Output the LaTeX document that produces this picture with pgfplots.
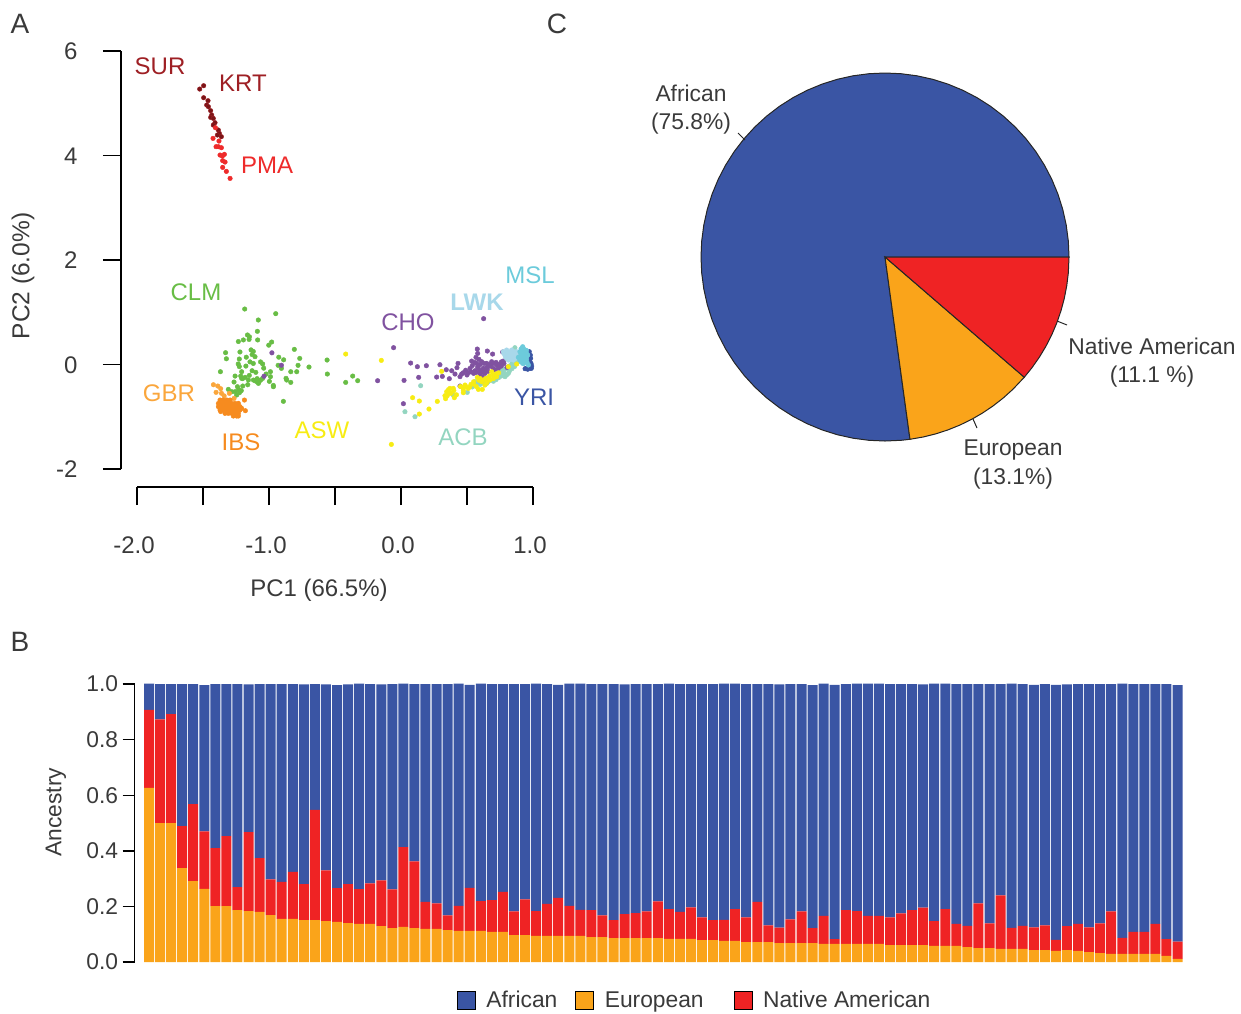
\documentclass[border=0pt]{standalone}
\usepackage{pgfplots}
\pgfplotsset{compat=1.18}
\usepackage{pgfplotstable}
\usepackage{fontspec}
\setmainfont{Liberation Sans}
\definecolor{afr}{HTML}{3A55A4}
\definecolor{eur}{HTML}{FAA41A}
\definecolor{nat}{HTML}{EF2324}
\definecolor{txt}{HTML}{3A3A3A}
\definecolor{csur}{HTML}{9E1F24}
\definecolor{ckrt}{HTML}{7A1518}
\definecolor{cpma}{HTML}{EE2B2B}
\definecolor{cclm}{HTML}{68BD45}
\definecolor{cgbr}{HTML}{FAA63C}
\definecolor{cibs}{HTML}{F68B1F}
\definecolor{casw}{HTML}{F7EC13}
\definecolor{ccho}{HTML}{8052A0}
\definecolor{cacb}{HTML}{93D5C0}
\definecolor{clwk}{HTML}{A8D8EA}
\definecolor{cmsl}{HTML}{6CCBDB}
\definecolor{cyri}{HTML}{3A55A4}
\newcommand{\fs}{\fontsize{22.8}{27}\selectfont}
\newcommand{\fb}{\fontsize{24}{28}\selectfont}
\pgfplotstableread{
n eur nat afr
1 .626 .281 .094
2 .500 .373 .127
3 .500 .392 .108
4 .338 .151 .511
5 .291 .277 .432
6 .263 .207 .526
7 .201 .209 .590
8 .201 .252 .547
9 .187 .082 .731
10 .183 .284 .532
11 .180 .194 .626
12 .169 .128 .703
13 .155 .133 .712
14 .155 .169 .676
15 .151 .129 .719
16 .151 .396 .453
17 .147 .183 .669
18 .144 .122 .730
19 .140 .140 .719
20 .137 .125 .739
21 .137 .146 .717
22 .129 .165 .705
23 .122 .139 .739
24 .126 .287 .588
25 .122 .240 .638
26 .119 .097 .784
27 .119 .092 .789
28 .115 .053 .832
29 .112 .090 .799
30 .112 .155 .730
31 .112 .107 .782
32 .108 .115 .777
33 .108 .144 .748
34 .097 .085 .818
35 .097 .128 .775
36 .094 .089 .818
37 .094 .115 .791
38 .094 .137 .766
39 .094 .108 .799
40 .094 .094 .813
41 .090 .097 .813
42 .090 .078 .832
43 .086 .065 .849
44 .086 .086 .827
45 .086 .090 .824
46 .086 .096 .818
47 .086 .132 .782
48 .083 .107 .811
49 .083 .097 .820
50 .083 .114 .803
51 .079 .082 .839
52 .079 .072 .849
53 .076 .076 .849
54 .076 .114 .811
55 .072 .089 .839
56 .072 .144 .784
57 .072 .060 .868
58 .068 .056 .875
59 .068 .085 .847
60 .068 .114 .818
61 .068 .054 .874
62 .065 .101 .835
63 .065 .017 .915
64 .065 .122 .813
65 .065 .118 .818
66 .065 .101 .835
67 .065 .101 .835
68 .061 .100 .839
69 .061 .114 .825
70 .061 .126 .813
71 .061 .135 .803
72 .058 .089 .854
73 .058 .132 .811
74 .058 .079 .863
75 .054 .076 .870
76 .050 .161 .789
77 .050 .089 .861
78 .047 .193 .760
79 .047 .076 .878
80 .047 .083 .870
81 .043 .082 .872
82 .043 .089 .868
83 .040 .040 .917
84 .043 .086 .870
85 .040 .097 .863
86 .036 .089 .875
87 .032 .107 .861
88 .029 .153 .818
89 .029 .058 .914
90 .029 .079 .892
91 .029 .079 .892
92 .029 .108 .863
93 .022 .060 .918
94 .011 .062 .923
}\ancestry
\newcommand{\lab}[4]{\node[text=#3,inner sep=0pt,font=\fs] at (#1pt,-#2pt) {#4};}
\newcommand{\labb}[4]{\node[text=#3,inner sep=0pt,font=\fb] at (#1pt,-#2pt) {#4};}
\begin{document}
\begin{tikzpicture}
\path[use as bounding box] (0pt,-1013pt) rectangle (1241pt,0pt);
% Panel A
\begin{axis}[at={(137pt,-469pt)},anchor=south west,scale only axis,width=396pt,height=418pt,
  xmin=-2,xmax=1,ymin=-2,ymax=6,clip=false,
  axis lines=left,axis line style={-,line width=1.4pt,black},
  axis x line shift=18pt,axis y line shift=16pt,
  tick align=outside,tick style={line width=1.4pt,black},
  major tick length=18pt,
  xtick={-2,-1.5,-1,-0.5,0,0.5,1},xticklabels={-2.0,,-1.0,,0.0,,1.0},
  ytick={-2,0,2,4,6},yticklabels={-2,0,2,4,6},
  tick label style={font=\fb,text=txt},
  xticklabel style={yshift=-28pt,xshift=-3pt},
  yticklabel style={xshift=-22pt,yshift=-0.5pt},
  every axis plot/.append style={only marks,mark=*,mark size=2.3pt},
]
\addplot[cyri,mark options={draw=none,fill=cyri}] coordinates {(.972,.245)(.982,.117)(.972,-.010)(.987,-.074)(.952,-.074)(.967,-.061)(.977,.054)(.94,-.08)(.96,-.09)(.98,-.07)(.99,-.03)(.985,.02)(.98,.18)};
\addplot[cclm,mark options={draw=none,fill=cclm}] coordinates {(-1.184,1.062)(-.949,.973)(-1.081,.852)(-1.088,.635)(-1.163,.565)(-1.148,.53)(-1.151,.48)(-1.194,.47)(-1.232,.44)(-1.086,.47)(-.98,.43)(-1.002,.37)(-1.329,.226)(-1.22,.24)(-1.136,.28)(-1.119,.25)(-1.128,.19)(-1.106,.15)(-1.323,.11)(-1.225,.105)(-1.172,.14)(-1.144,.05)(-1.119,.02)(-1.233,.01)(-1.225,-.04)(-1.175,-.03)(-1.064,.05)(-1.048,.01)(-1.04,-.07)(-.926,.14)(-.889,.09)(-.808,.29)(-.767,.117)(-.78,-.016)(-.697,-.048)(-.835,-.138)(-.79,-.138)(-.931,-.016)(-.906,-.074)(-.56,.086)(-.558,-.182)(-.419,-.342)(-.366,-.221)(-.328,-.31)(-1.368,-.138)(-1.257,-.221)(-1.265,-.335)(-1.207,-.138)(-1.214,-.22)(-1.181,-.246)(-1.149,-.208)(-1.128,-.119)(-1.1,-.15)(-.989,-.138)(-1.022,-.182)(-.989,-.233)(-.997,-.323)(-.967,-.4)(-.967,-.425)(-.871,-.265)(-.866,-.297)(-.835,-.342)(-.891,-.705)(-1.118,-.297)(-1.093,-.329)(-1.08,-.361)(-1.063,-.297)(-1.048,-.265)(-1.199,-.412)(-1.161,-.387)(-1.239,-.425)(-1.308,-.476)(-1.257,-.52)(-1.224,-.54)(-1.245,-.584)(-1.282,-.52)(-1.207,-.265)(-1.156,-.297)(-1.105,-.31)(-1.09,-.27)(-1.075,-.33)(-1.23,-.48)(-1.21,-.5)(-1.2,-.27)};
\addplot[cgbr,mark options={draw=none,fill=cgbr}] coordinates {(-1.421,-.387)(-1.388,-.412)(-1.366,-.463)(-1.401,-.533)(-1.36,-.55)(-1.34,-.6)(-1.3,-.552)(-1.265,-.65)};
\addplot[cibs,mark options={draw=none,fill=cibs}] coordinates {(-1.371,-.68)(-1.346,-.68)(-1.32,-.68)(-1.295,-.68)(-1.383,-.744)(-1.358,-.744)(-1.333,-.744)(-1.308,-.744)(-1.282,-.744)(-1.257,-.744)(-1.232,-.744)(-1.383,-.808)(-1.358,-.808)(-1.333,-.808)(-1.308,-.808)(-1.282,-.808)(-1.257,-.808)(-1.232,-.808)(-1.219,-.808)(-1.371,-.871)(-1.346,-.871)(-1.32,-.871)(-1.295,-.871)(-1.27,-.871)(-1.245,-.871)(-1.22,-.871)(-1.179,-.884)(-1.333,-.935)(-1.308,-.935)(-1.282,-.935)(-1.257,-.935)(-1.232,-.935)(-1.27,-.986)(-1.245,-.986)(-1.232,-.986)(-1.366,-.9)(-1.186,-.68)(-1.207,-.84)};
\addplot[csur,mark options={draw=none,fill=ckrt}] coordinates {(-1.495,5.336)(-1.525,5.272)(-1.495,5.106)(-1.462,5.049)(-1.472,4.966)(-1.459,4.934)(-1.442,4.858)(-1.434,4.775)(-1.442,4.73)(-1.422,4.711)(-1.409,4.628)(-1.422,4.583)(-1.384,4.488)(-1.376,4.424)(-1.391,4.392)(-1.361,4.36)};
\addplot[cpma,mark options={draw=none,fill=cpma}] coordinates {(-1.406,4.532)(-1.424,4.328)(-1.379,4.277)(-1.401,4.169)(-1.361,4.149)(-1.371,4.009)(-1.338,4.022)(-1.351,3.901)(-1.333,3.875)(-1.351,3.773)(-1.323,3.696)(-1.295,3.562)(-1.384,4.169)(-1.353,3.99)};
\addplot[cacb,mark options={draw=none,fill=cacb}] coordinates {(.149,-.406)(.03,-.903)(.106,-.999)(.396,-.584)(.502,-.533)(.56,-.329)(.535,-.393)(.649,-.361)(.712,-.265)(.75,-.201)(.788,-.233)(.813,-.17)(.762,-.106)(.8,-.074)(.851,.022)(.889,.086)(.863,.322)(.775,-.138)(.58,-.36)(.60,-.38)(.62,-.35)(.66,-.33)(.68,-.30)(.70,-.32)(.72,-.29)(.74,-.25)(.76,-.22)(.78,-.18)(.80,-.20)(.82,-.13)(.84,-.08)(.78,-.10)(.82,-.03)(.86,-.04)(.84,.02)(.88,.04)(.74,-.19)(.54,-.43)};
\addplot[ccho,mark options={draw=none,fill=ccho}] coordinates {(.626,.877)(-.056,.322)(.073,.028)(.124,-.042)(.192,-.023)(-.177,-.31)(.023,-.304)(.134,-.246)(.018,-.75)(.295,-.004)(.27,-.24)(.313,-.227)(.366,-.272)(.343,-.1)(.384,-.119)(.409,-.182)(.432,.022)(.424,-.061)(.447,-.233)(.472,-.157)(.51,-.157)(.447,-.412)(.535,.066)(.578,.296)(.581,.213)(.568,.137)(.654,.258)(.694,.2)(.77,.239)(.775,.066)(.803,-.055)(.573,.022)(.611,.054)(.649,.022)(.687,.054)(.725,-.01)(.586,-.074)(.624,-.074)(.661,-.042)(.699,-.074)(.598,-.17)(.636,-.17)(.611,-.233)(.56,-.119)(.523,-.074)(.737,-.074)(-.978,.224)(-.906,-.014)(-1.038,-.225)(.54,-.02)(.56,.04)(.59,.10)(.60,.0)(.63,.02)(.65,-.06)(.67,.0)(.70,.02)(.72,.04)(.74,.0)(.76,-.03)(.58,-.05)(.60,-.12)(.62,-.14)(.64,-.11)(.66,-.13)(.60,-.2)(.62,-.25)(.57,-.15)(.55,-.17)(.53,-.14)(.49,-.11)(.50,-.2)(.46,-.18)(.68,-.03)(.71,-.1)(.76,.05)(.78,.02)};
\addplot[casw,mark options={draw=none,fill=casw}] coordinates {(-.149,.079)(-.073,-1.529)(.088,-.635)(.139,-.699)(.212,-.852)(.139,-.948)(.275,-.706)(.308,-.131)(.338,-.654)(.333,-.597)(.404,-.635)(.346,-.52)(.371,-.457)(.396,-.457)(.366,-.552)(.472,-.489)(.485,-.393)(.51,-.457)(.472,-.54)(.548,-.374)(.586,-.476)(.616,-.476)(.578,-.246)(.611,-.329)(.636,-.393)(.674,-.297)(.687,-.138)(.725,-.233)(.813,-.042)(.876,.009)(.649,-.265)(-.419,.2)(.35,-.6)(.36,-.48)(.38,-.55)(.40,-.5)(.42,-.58)(.45,-.42)(.47,-.44)(.49,-.42)(.52,-.43)(.53,-.38)(.55,-.33)(.57,-.42)(.59,-.30)(.60,-.27)(.62,-.30)(.64,-.27)(.65,-.35)(.67,-.22)(.70,-.2)(.72,-.18)(.74,-.16)(.70,-.27)};
\addplot[clwk,mark options={draw=none,fill=clwk}] coordinates {(.8,.277)(.838,.277)(.876,.245)(.788,.181)(.826,.181)(.863,.149)(.813,.086)(.851,.086)(.889,.181)(.775,.245)(.838,.213)(.8,.117)(.78,.21)(.81,.24)(.85,.25)(.83,.14)(.85,.12)(.87,.12)(.80,.16)(.82,.22)(.86,.21)(.87,.17)(.83,.10)(.79,.15)(.84,.17)};
\addplot[cmsl,mark options={draw=none,fill=cmsl}] coordinates {(.922,.341)(.901,.245)(.939,.245)(.914,.149)(.952,.149)(.901,.086)(.939,.054)(.965,-.01)(.927,.181)(.889,.137)(.952,.213)(.922,.022)(.91,.30)(.93,.30)(.91,.20)(.95,.27)(.93,.10)(.95,.10)(.91,.05)(.93,.02)(.955,.04)(.96,.18)(.90,.15)(.94,.19)(.92,.27)};
\end{axis}
% Panel C
\begin{axis}[at={(701pt,-441pt)},anchor=south west,scale only axis,width=368pt,height=368pt,hide axis,
  xmin=-1,xmax=1,ymin=-1,ymax=1,clip=false,data cs=polar,
  every axis plot/.append style={draw=black!85,line width=1pt,mark=none}]
\addplot[fill=afr] coordinates {(0,0)(0,1)(5,1)(10,1)(15,1)(20,1)(25,1)(30,1)(35,1)(40,1)(45,1)(50,1)(55,1)(60,1)(65,1)(70,1)(75,1)(80,1)(85,1)(90,1)(95,1)(100,1)(105,1)(110,1)(115,1)(120,1)(125,1)(130,1)(135,1)(140,1)(145,1)(150,1)(155,1)(160,1)(165,1)(170,1)(175,1)(180,1)(185,1)(190,1)(195,1)(200,1)(205,1)(210,1)(215,1)(220,1)(225,1)(230,1)(235,1)(240,1)(245,1)(250,1)(255,1)(260,1)(265,1)(270,1)(275,1)(277.8,1)} --cycle;
\addplot[fill=eur] coordinates {(0,0)(277.8,1)(282,1)(286,1)(290,1)(294,1)(298,1)(302,1)(306,1)(310,1)(314,1)(319.2,1)} --cycle;
\addplot[fill=nat] coordinates {(0,0)(319.2,1)(323,1)(327,1)(331,1)(335,1)(339,1)(343,1)(347,1)(351,1)(355,1)(360,1)} --cycle;
\end{axis}
% Panel B
\begin{axis}[at={(134.7pt,-962pt)},anchor=south west,scale only axis,width=1048.3pt,height=278pt,
  xmin=-0.293,xmax=94.49,ymin=0,ymax=1,clip=false,
  axis x line=none,axis y line=left,axis line style={-,line width=1.4pt,black},
  ybar stacked,bar width=10pt,
  ytick={0,0.2,0.4,0.6,0.8,1},yticklabels={0.0,0.2,0.4,0.6,0.8,1.0},
  tick align=outside,major tick length=12pt,tick style={line width=1.4pt,black},
  tick label style={font=\fs,text=txt},yticklabel style={xshift=-1pt},
  legend style={at={(axis description cs:0.3075,-0.137)},anchor=west,draw=none,fill=none,inner sep=0pt,outer sep=0pt,font=\fs,text=txt,
    legend columns=3,/tikz/every even column/.append style={column sep=16pt},/tikz/every odd column/.append style={column sep=9pt}},
  legend cell align=left,
  legend image code/.code={\fill[#1] (0pt,-9pt) rectangle (18pt,9pt);},
]
\addplot[draw=none,fill=eur,forget plot] table[x=n,y=eur] {\ancestry};
\addplot[draw=none,fill=nat,forget plot] table[x=n,y=nat] {\ancestry};
\addplot[draw=none,fill=afr,forget plot] table[x=n,y=afr] {\ancestry};
\addlegendimage{fill=afr}\addlegendentry{African}
\addlegendimage{fill=eur}\addlegendentry{European\hspace{12pt}\mbox{}}
\addlegendimage{fill=nat}\addlegendentry{Native American}
\end{axis}
% Leaders
\draw[line width=1pt,black!85] (738pt,-133pt) -- (745pt,-140pt);
\draw[line width=1pt,black!85] (1057pt,-321pt) -- (1067pt,-325pt);
\draw[line width=1pt,black!85] (973pt,-419pt) -- (977pt,-428pt);
% Text
\node[text=txt,inner sep=0pt,font=\fontsize{28}{32}\selectfont] at (20pt,-24pt) {A};
\node[text=txt,inner sep=0pt,font=\fontsize{28}{32}\selectfont] at (557pt,-24pt) {C};
\node[text=txt,inner sep=0pt,font=\fontsize{28}{32}\selectfont] at (20pt,-642pt) {B};
\node[text=txt,inner sep=0pt,font=\fontsize{24.5}{28}\selectfont,rotate=90] at (23pt,-276pt) {PC2 (6.0\%)};
\node[text=txt,inner sep=0pt,font=\fontsize{24}{28}\selectfont] at (319pt,-590pt) {PC1 (66.5\%)};
\node[text=txt,inner sep=0pt,font=\fs,rotate=90] at (56pt,-812pt) {Ancestry};
\labb{160}{66}{csur}{SUR}
\labb{243}{83}{csur}{KRT}
\labb{267}{165}{cpma}{PMA}
\labb{196}{292}{cclm}{CLM}
\labb{169}{393}{cgbr}{GBR}
\labb{241}{442}{cibs}{IBS}
\labb{322}{430}{casw}{ASW}
\labb{408}{322}{ccho}{CHO}
\node[text=clwk,inner sep=0pt,font=\fb\bfseries] at (477pt,-302pt) {LWK};
\labb{530}{275}{cmsl}{MSL}
\labb{534}{397}{cyri}{YRI}
\labb{463}{437}{cacb}{ACB}
\lab{691}{93}{txt}{African}
\lab{691}{124}{txt}{(75.8\%)}
\lab{1152}{346}{txt}{Native American}
\lab{1152}{377}{txt}{(11.1 \%)}
\lab{1013}{450}{txt}{European}
\lab{1013}{479}{txt}{(13.1\%)}
\end{tikzpicture}
\end{document}
